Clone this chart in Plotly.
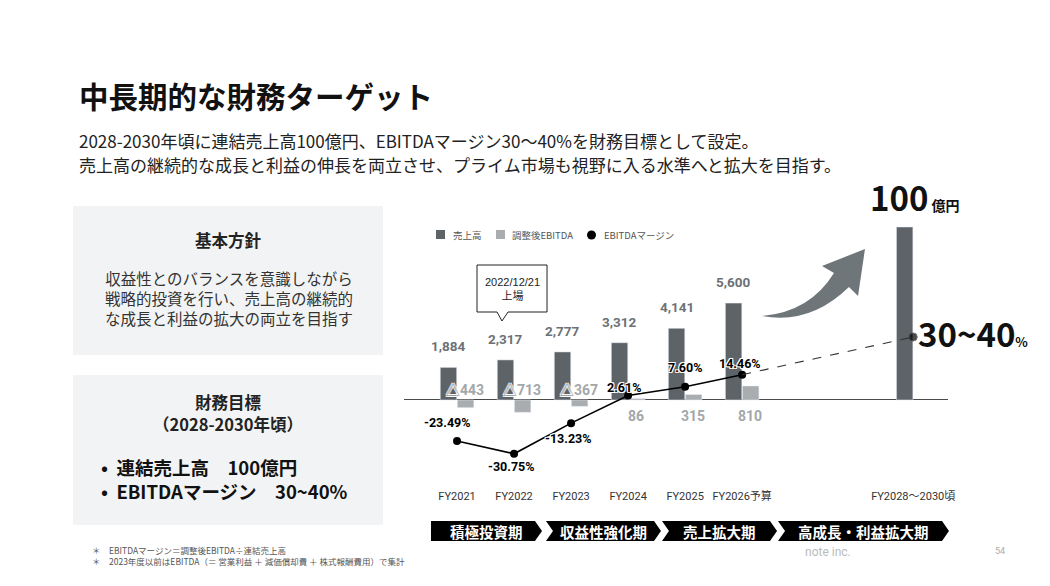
import plotly.graph_objects as go

# data
categories = ["FY2021", "FY2022", "FY2023", "FY2024", "FY2025", "FY2026予算", "FY2028～2030頃"]
revenue = [1884, 2317, 2777, 3312, 4141, 5600, 10000]
adj_ebitda = [-443, -713, -367, 86, 315, 810]
ebitda_margin = [-23.49, -30.75, -13.23, 2.61, 7.60, 14.46]
target_margin = 36
phases = ["積極投資期", "収益性強化期", "売上拡大期", "高成長・利益拡大期"]

JP = "Noto Sans CJK JP"
NUM = "Roboto, Noto Sans CJK JP"
C_REV = "#5d6367"
C_EBITDA = "#a9adb0"
HALO = "1px 1px 0 white, -1px -1px 0 white, 1px -1px 0 white, -1px 1px 0 white"

# plot area in pixels
L, R, T, B = 404, 948, 200, 488
PW, PH = R - L, B - T


def px(x):
    return (x - L) / PW


def py(y):
    return (B - y) / PH


def P(a, b):
    return f"{px(a):.4f},{py(b):.4f}"


ann = []
shapes = []


def label(x, y, s, size, color="#222", family=JP, anchor="center", align="center"):
    ann.append(dict(x=px(x), y=py(y), xref="paper", yref="paper", xanchor=anchor,
                    yanchor="middle", showarrow=False, text=s, align=align,
                    font=dict(family=family, size=size, color=color)))


# six fiscal years, a gap, then the long-term target slot
xs = list(range(6)) + [8]

fig = go.Figure()
fig.add_trace(go.Bar(x=xs, y=revenue, name="売上高", marker_color=C_REV))
fig.add_trace(go.Bar(x=xs[:6], y=adj_ebitda, name="調整後EBITDA", marker_color=C_EBITDA))
fig.add_trace(go.Scatter(x=xs[:6], y=ebitda_margin, yaxis="y2", mode="lines+markers",
                         name="EBITDAマージン",
                         line=dict(color="black", width=1.6), marker=dict(color="black", size=8)))
fig.add_trace(go.Scatter(x=[xs[5], xs[6]], y=[ebitda_margin[-1], target_margin], yaxis="y2",
                         mode="lines+markers", line=dict(color="#333", width=1.1, dash="dash"),
                         marker=dict(color="black", size=[0, 8])))

# revenue labels
for x, v in zip(xs[:6], revenue[:6]):
    ann.append(dict(x=x, y=v, xref="x", yref="y", text=f"<b>{v:,}</b>", showarrow=False,
                    xanchor="center", yanchor="bottom", xshift=-8.5, yshift=11,
                    font=dict(family=NUM, size=13.5, color="#6d7175")))
ann.append(dict(x=xs[6], y=revenue[6], xref="x", yref="y", showarrow=False,
                xanchor="center", yanchor="bottom", yshift=4, xshift=2,
                text="<b>%d</b><span style='font-size:14px'><b> 億円</b></span>" % (revenue[6] // 100),
                font=dict(family=JP, size=33, color="#111")))

# adjusted EBITDA labels on the other side of the zero line
for x, v in zip(xs[:6], adj_ebitda):
    neg = v < 0
    ann.append(dict(x=x, y=0, xref="x", yref="y", showarrow=False,
                    text="<b>%s%d</b>" % ("△" if neg else "", abs(v)),
                    xanchor="center", yanchor="bottom" if neg else "top", xshift=8,
                    yshift=0 if neg else -6,
                    font=dict(family=NUM, size=14, color="#a3a7aa", shadow=HALO)))

# margin labels
offs = [(-10, 19), (-3, -13), (-3, -15), (-4, 8), (0, 19), (-2, 11)]
for x, m, (dx, dy) in zip(xs[:6], ebitda_margin, offs):
    ann.append(dict(x=x, y=m, xref="x", yref="y2", showarrow=False, text=f"<b>{m:.2f}%</b>",
                    xanchor="center", yanchor="middle", xshift=dx, yshift=dy,
                    font=dict(family=NUM, size=12.5, color="black", shadow=HALO)))
ann.append(dict(x=xs[6], y=target_margin, xref="x", yref="y2", showarrow=False,
                xanchor="left", yanchor="middle", xshift=3, yshift=4,
                text="<b>30~40</b><span style='font-size:13px'><b>%</b></span>",
                font=dict(family=JP, size=33, color="#111")))

# legend drawn by hand to keep the slide's tight spacing
shapes.append(dict(type="rect", xref="paper", yref="paper", x0=px(436), x1=px(445),
                   y0=py(239), y1=py(230), fillcolor=C_REV, line_width=0))
shapes.append(dict(type="rect", xref="paper", yref="paper", x0=px(496), x1=px(505),
                   y0=py(239), y1=py(230), fillcolor=C_EBITDA, line_width=0))
shapes.append(dict(type="circle", xref="paper", yref="paper", x0=px(587), x1=px(596),
                   y0=py(239.5), y1=py(230.5), fillcolor="black", line_width=0))
label(451, 235, "売上高", 9.5, "#555", anchor="left")
label(510, 235, "調整後EBITDA", 9.5, "#555", anchor="left")
label(602, 235, "EBITDAマージン", 9.5, "#555", anchor="left")

# title / subtitle
label(77, 95, "<b>中長期的な財務ターゲット</b>", 29.5, "#111", anchor="left")
subs = ["2028-2030年頃に連結売上高100億円、EBITDAマージン30～40%を財務目標として設定。",
        "売上高の継続的な成長と利益の伸長を両立させ、プライム市場も視野に入る水準へと拡大を目指す。"]
for i, s in enumerate(subs):
    label(77, 140 + 24 * i, s, 17, "#222", anchor="left")

# left boxes
for y0, y1 in [(206, 355), (375, 525)]:
    shapes.append(dict(type="rect", xref="paper", yref="paper", x0=px(73), x1=px(383),
                       y0=py(y1), y1=py(y0), fillcolor="#f2f3f4", line_width=0, layer="below"))
label(228, 240, "<b>基本方針</b>", 16.5)
policy = ["収益性とのバランスを意識しながら", "戦略的投資を行い、売上高の継続的", "な成長と利益の拡大の両立を目指す"]
label(229, 298, "<br>".join(policy), 15.5, "#333")
label(228, 402, "<b>財務目標</b>", 16.5)
label(228, 424, "<b>（2028-2030年頃）</b>", 16.5)
goals = ["•  連結売上高　100億円", "•  EBITDAマージン　30~40%"]
label(99, 479, "<br>".join(f"<b>{s}</b>" for s in goals), 18.5, "#111", anchor="left", align="left")

# footnotes / footer
notes = ["＊　EBITDAマージン＝調整後EBITDA÷連結売上高",
         "＊　2023年度以前はEBITDA（＝ 営業利益 ＋ 減価償却費 ＋ 株式報酬費用）で集計"]
label(90, 555, "<br>".join(notes), 8.5, "#555", anchor="left", align="left")
label(828, 552, "note inc.", 12, "#bbb", family="Roboto")
label(1000, 551, "54", 9, "#aaa", family="Roboto")

# listing callout
callout = [(477, 265), (547, 265), (547, 312), (508, 312), (502, 321), (497, 312), (477, 312)]
shapes.append(dict(type="path", xref="paper", yref="paper",
                   path="M" + " L".join(P(a, b) for a, b in callout) + " Z",
                   fillcolor="white", line=dict(color="#222", width=1)))
label(512, 289, "2022/12/21<br>上場", 11, "#222", family="Liberation Sans, Noto Sans CJK JP")

# growth arrow
arrow = (f"M{P(762, 316)} Q{P(810, 312)} {P(834, 273)} L{P(822, 266)} L{P(865, 249)} "
         f"L{P(858, 296)} L{P(849, 287)} Q{P(810, 325)} {P(762, 316)} Z")
shapes.append(dict(type="path", xref="paper", yref="paper", path=arrow,
                   fillcolor="#6e767a", line_width=0))

# phase chevrons
segs = [(431, 542), (546, 661), (662, 777), (778, 949)]
tip = 7
for i, ((x0, x1), name) in enumerate(zip(segs, phases)):
    pts = [(x0, 521), (x1 - tip, 521), (x1, 531), (x1 - tip, 541), (x0, 541)]
    if i > 0:
        pts.append((x0 + tip, 531))
    shapes.append(dict(type="path", xref="paper", yref="paper",
                       path="M" + " L".join(P(a, b) for a, b in pts) + " Z",
                       fillcolor="black", line_width=0))
    label((x0 + x1) / 2, 531, f"<b>{name}</b>", 14.5, "white")

fig.update_layout(
    width=1050, height=586,
    margin=dict(l=L, r=1050 - R, t=T, b=586 - B),
    paper_bgcolor="white", plot_bgcolor="white",
    barmode="group", bargap=0.40, bargroupgap=0.04,
    showlegend=False,
    xaxis=dict(range=[-0.93, 8.61], tickvals=xs, ticktext=categories, showgrid=False,
               zeroline=False, showline=False, ticks="",
               tickfont=dict(family=NUM, size=11, color="#333")),
    yaxis=dict(range=[-5087, 11560], showticklabels=False, showgrid=False, zeroline=True,
               zerolinecolor="#4a4a4a", zerolinewidth=1.2),
    yaxis2=dict(range=[-50.3, 114.3], overlaying="y", visible=False),
    annotations=ann, shapes=shapes,
)

# the page body has a default 8px margin; drop it so the slide sits at 0,0
fig.write_html("out.html", config={"displayModeBar": False},
               post_script="document.body.style.margin='0';")
